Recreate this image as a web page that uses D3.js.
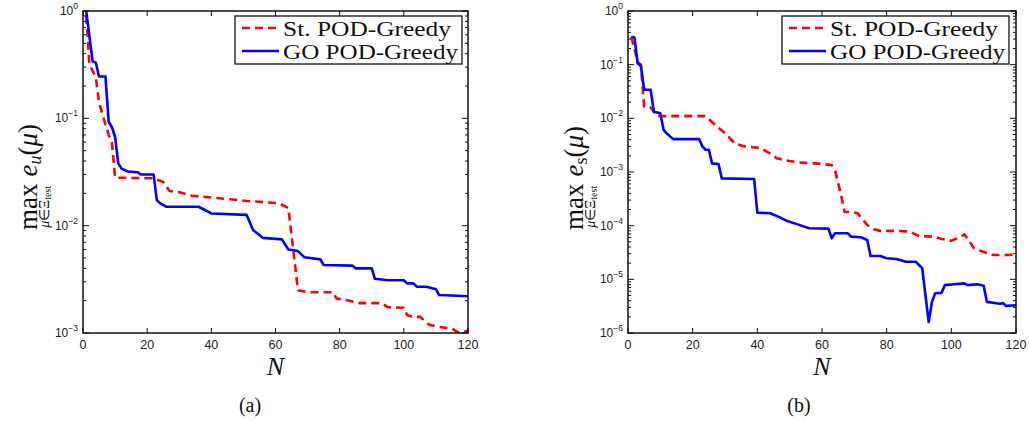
<!DOCTYPE html>
<meta charset="utf-8">
<head>
    <script type="text/javascript" src="https://cdn.jsdelivr.net/npm/d3@7"></script>
    <style>
        body {
            margin: 0;
            background: #fff;
        }
        .tick-label {
            font-family: "Liberation Sans", Arial, sans-serif;
            fill: #222;
        }
        .serif {
            font-family: "Liberation Serif", "Times New Roman", serif;
            fill: #111;
        }
    </style>
    <title>POD-Greedy error decay</title>
</head>

<body>
    <div id="chart"></div>

    <script>
        var w = 1029;
        var h = 423;

        // (a) max error e_u over the training set, by basis size N
        var stN_a   = [1, 2, 4, 5, 7, 8, 9, 10, 22, 25, 27, 30, 34, 46, 51, 61, 64, 67, 70, 78, 79, 82, 86, 93, 95, 100, 101, 103, 105, 108, 111, 115, 117, 120];
        var stVal_a = [0.9, 0.32, 0.24, 0.14, 0.088, 0.07, 0.06, 0.028, 0.0276, 0.0255, 0.021, 0.0205, 0.019, 0.0176, 0.017, 0.0162, 0.0146, 0.0025, 0.0024, 0.0024, 0.0021, 0.00203, 0.0019, 0.0019, 0.00174, 0.00172, 0.00147, 0.0014, 0.00142, 0.00119, 0.00114, 0.0011, 0.00101, 0.00105];

        var goN_a   = [1, 3, 4, 5, 7, 8, 9, 10, 11, 12, 14, 17, 18, 22, 23, 24, 26, 36, 38, 40, 51, 53, 55, 56, 62, 64, 67, 69, 74, 75, 84, 85, 90, 91, 95, 100, 101, 103, 104, 107, 110, 111, 120];
        var goVal_a = [1.0, 0.34, 0.33, 0.245, 0.245, 0.093, 0.083, 0.067, 0.038, 0.034, 0.032, 0.0315, 0.030, 0.030, 0.0173, 0.0162, 0.015, 0.015, 0.014, 0.013, 0.0126, 0.0091, 0.0082, 0.0077, 0.00745, 0.006, 0.0058, 0.00507, 0.00485, 0.0043, 0.00424, 0.004, 0.004, 0.0032, 0.0031, 0.0031, 0.0029, 0.0029, 0.0027, 0.0027, 0.00255, 0.00226, 0.0022];

        // (b) max error e_s
        var stN_b   = [1, 2, 3, 4, 5, 7, 9, 24, 27, 30, 33, 36, 41, 44, 46, 50, 53, 58, 63, 64, 66, 67, 69, 71, 74, 76, 78, 83, 87, 90, 95, 97, 100, 103, 104, 105, 107, 109, 113, 118, 120];
        var stVal_b = [0.33, 0.2, 0.11, 0.1, 0.0165, 0.016, 0.011, 0.011, 0.0075, 0.0053, 0.0034, 0.003, 0.0028, 0.0022, 0.0018, 0.0016, 0.0015, 0.00145, 0.00135, 0.0011, 0.00035, 0.00018, 0.00018, 0.00017, 0.000103, 0.000086, 0.00008, 0.00008, 0.000078, 0.000064, 0.000062, 0.0000565, 0.0000525, 0.000062, 0.000069, 0.000058, 0.000038, 0.000034, 0.0000284, 0.0000284, 0.0000295];

        var goN_b   = [1, 2, 3, 4, 5, 7, 8, 10, 11, 12, 14, 22, 23, 24, 25, 26, 28, 29, 39, 40, 44, 47, 49, 52, 56, 62, 63, 64, 68, 69, 72, 74, 75, 78, 80, 83, 86, 89, 91, 93, 94, 95, 97, 98, 101, 104, 105, 108, 110, 111, 115, 116, 117, 120];
        var goVal_b = [0.33, 0.32, 0.106, 0.094, 0.034, 0.034, 0.0133, 0.0124, 0.0061, 0.0052, 0.0041, 0.0041, 0.003, 0.0026, 0.0026, 0.00145, 0.0014, 0.00076, 0.00074, 0.000175, 0.00017, 0.000143, 0.000124, 0.000108, 0.0000895, 0.000088, 0.000058, 0.000072, 0.000072, 0.0000624, 0.000061, 0.000054, 0.0000272, 0.0000272, 0.0000247, 0.000024, 0.0000213, 0.0000213, 0.0000161, 0.0000016, 0.0000038, 0.0000055, 0.0000056, 0.0000078, 0.0000081, 0.0000084, 0.0000078, 0.0000081, 0.0000076, 0.0000038, 0.0000035, 0.0000036, 0.0000032, 0.0000033];

        var xTicks = [0, 20, 40, 60, 80, 100, 120];
        var legendNames = ["St. POD-Greedy", "GO POD-Greedy"];

        var svg = d3.select("#chart")
                    .append("svg")
                    .attr("width", w)
                    .attr("height", h);

        var panels = [
            { id: "a", x0: 83, x1: 468, minExp: -3, sub: "u", subItalic: true, lx: 37, letter: "(a)", letterX: 250,
              st: [stN_a, stVal_a], go: [goN_a, goVal_a], legX: 235 },
            { id: "b", x0: 628, x1: 1016, minExp: -6, sub: "s", subItalic: false, lx: 583, letter: "(b)", letterX: 799,
              st: [stN_b, stVal_b], go: [goN_b, goVal_b], legX: 782 }
        ];

        var y0 = 11, y1 = 333;

        panels.forEach(drawPanel);

        function drawPanel(p) {
            var x = d3.scaleLinear().domain([0, 120]).range([p.x0, p.x1]);
            var y = d3.scaleLog().domain([Math.pow(10, p.minExp), 1]).range([y1, y0]);
            var g = svg.append("g").attr("id", "panel-" + p.id);

            g.append("clipPath").attr("id", "clip-" + p.id)
                .append("rect")
                .attr("x", p.x0).attr("y", y0)
                .attr("width", p.x1 - p.x0).attr("height", y1 - y0);

            // data lines
            var line = d3.line()
                .x(d => x(d[0]))
                .y(d => y(d[1]));

            var lines = g.append("g").attr("clip-path", "url(#clip-" + p.id + ")");
            lines.append("path")
                .datum(d3.zip(p.st[0], p.st[1]))
                .attr("d", line)
                .attr("fill", "none")
                .attr("stroke", "#ff0000")
                .attr("stroke-width", 2.6)
                .attr("stroke-dasharray", "8,5")
                .attr("stroke-linejoin", "round");
            lines.append("path")
                .datum(d3.zip(p.go[0], p.go[1]))
                .attr("d", line)
                .attr("fill", "none")
                .attr("stroke", "#0000ff")
                .attr("stroke-width", 2.6)
                .attr("stroke-linejoin", "round");

            // frame
            g.append("rect")
                .attr("x", p.x0).attr("y", y0)
                .attr("width", p.x1 - p.x0).attr("height", y1 - y0)
                .attr("fill", "none")
                .attr("stroke", "#111")
                .attr("stroke-width", 1.5);

            // x ticks (bottom and top, inward)
            var xt = g.append("g");
            xTicks.forEach(function(t) {
                xt.append("line").attr("x1", x(t)).attr("x2", x(t)).attr("y1", y1).attr("y2", y1 - 5).attr("stroke", "#111");
                xt.append("line").attr("x1", x(t)).attr("x2", x(t)).attr("y1", y0).attr("y2", y0 + 5).attr("stroke", "#111");
                xt.append("text")
                    .attr("class", "tick-label")
                    .attr("x", x(t)).attr("y", 349)
                    .attr("text-anchor", "middle")
                    .style("font-size", "12.5px")
                    .text(t);
            });

            // y ticks (log, with minor ticks)
            var yt = g.append("g");
            for (var e = p.minExp; e <= 0; e++) {
                var v = Math.pow(10, e);
                yt.append("line").attr("x1", p.x0).attr("x2", p.x0 + 6).attr("y1", y(v)).attr("y2", y(v)).attr("stroke", "#111");
                yt.append("line").attr("x1", p.x1).attr("x2", p.x1 - 6).attr("y1", y(v)).attr("y2", y(v)).attr("stroke", "#111");
                var lab = yt.append("text")
                    .attr("class", "tick-label")
                    .attr("x", p.x0 - 5).attr("y", y(v) + 4)
                    .attr("text-anchor", "end")
                    .style("font-size", "12px");
                lab.append("tspan").text("10");
                lab.append("tspan").attr("dy", -6).style("font-size", "8.5px").text(e === 0 ? "0" : "\u2212" + (-e));
                if (e < 0) {
                    for (var m = 2; m <= 9; m++) {
                        var mv = m * v;
                        yt.append("line").attr("x1", p.x0).attr("x2", p.x0 + 3).attr("y1", y(mv)).attr("y2", y(mv)).attr("stroke", "#111");
                        yt.append("line").attr("x1", p.x1).attr("x2", p.x1 - 3).attr("y1", y(mv)).attr("y2", y(mv)).attr("stroke", "#111");
                    }
                }
            }

            // y label: max_{mu in Xi_test} e(mu), rotated
            var yl = g.append("g").attr("transform", "translate(" + (p.lx) + "," + ((y0 + y1) / 2) + ") rotate(-90)");
            var start = -58;
            var t1 = yl.append("text").attr("class", "serif")
                .attr("x", start).attr("y", 0)
                .style("font-size", "27px")
                .text("max");
            var mw = t1.node().getComputedTextLength();
            var sb = yl.append("text").attr("class", "serif")
                .attr("x", start + mw / 2).attr("y", 12)
                .attr("text-anchor", "middle")
                .style("font-size", "14px");
            sb.append("tspan").style("font-style", "italic").text("\u03bc");
            sb.append("tspan").text("\u2208\u039e");
            sb.append("tspan").attr("dy", 2).style("font-size", "10px").text("test");
            var t2 = yl.append("text").attr("class", "serif")
                .attr("x", start + mw + 7).attr("y", 0)
                .style("font-size", "27px");
            t2.append("tspan").style("font-style", "italic").text("e");
            t2.append("tspan").attr("dy", 4).style("font-size", "18px")
                .style("font-style", p.subItalic ? "italic" : "normal").text(p.sub);
            t2.append("tspan").attr("dy", -4).text("(");
            t2.append("tspan").style("font-style", "italic").text("\u03bc");
            t2.append("tspan").text(")");

            // x label and panel letter
            g.append("text").attr("class", "serif")
                .attr("x", (p.x0 + p.x1) / 2).attr("y", 375)
                .attr("text-anchor", "middle")
                .style("font-size", "26px")
                .style("font-style", "italic")
                .text("N");
            g.append("text").attr("class", "serif")
                .attr("x", p.letterX).attr("y", 412)
                .attr("text-anchor", "middle")
                .style("font-size", "20px")
                .text(p.letter);

            // legend
            var lg = g.append("g").attr("transform", "translate(" + p.legX + ",16)");
            lg.append("rect")
                .attr("width", 227).attr("height", 48)
                .attr("fill", "#fff")
                .attr("stroke", "#111")
                .attr("stroke-width", 1.3);
            legendNames.forEach(function(name, i) {
                var ly = 12 + i * 23;
                lg.append("line")
                    .attr("x1", 7).attr("x2", 44)
                    .attr("y1", ly).attr("y2", ly)
                    .attr("stroke", i === 0 ? "#ff0000" : "#0000ff")
                    .attr("stroke-width", 2.6)
                    .attr("stroke-dasharray", i === 0 ? "8,5" : null);
                lg.append("text").attr("class", "serif")
                    .attr("x", 48).attr("y", ly + 8)
                    .style("font-size", "22px")
                    .attr("textLength", i === 0 ? 168 : 175)
                    .attr("lengthAdjust", "spacingAndGlyphs")
                    .text(name);
            });
        }
    </script>
</body>

</html>
